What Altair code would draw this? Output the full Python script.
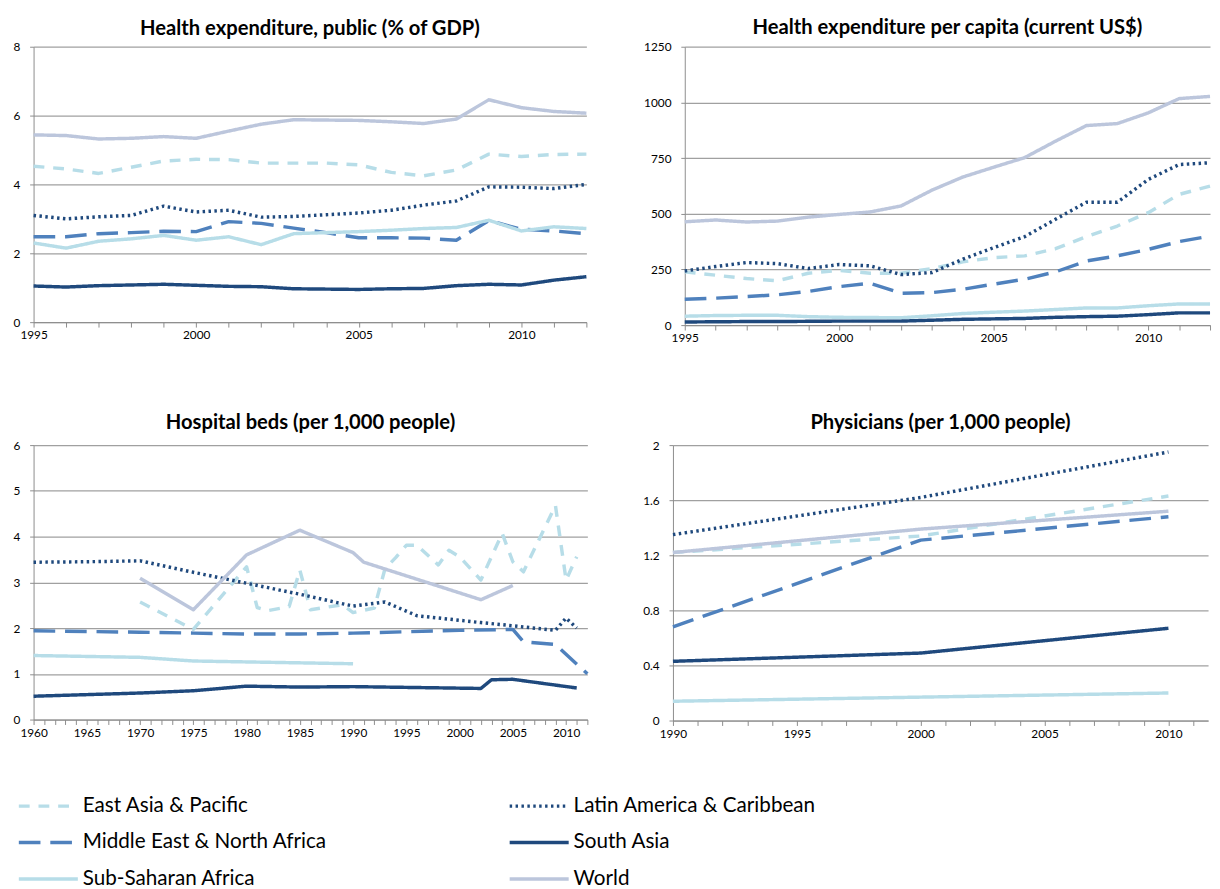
import altair as alt
import pandas as pd

# legend order (column-major fill: first column, then second column)
REGIONS = ["East Asia & Pacific", "Middle East & North Africa", "Sub-Saharan Africa",
           "Latin America & Caribbean", "South Asia", "World"]
COLORS = ["#b7dde8", "#4f81bd", "#b7dde8", "#1f497d", "#1f497d", "#bcc6dc"]
DASHES = [[11, 9], [22, 10], [1, 0], [2.5, 3.5], [1, 0], [1, 0]]
WIDTHS = [3.5, 3.5, 5.5, 3.3, 3.5, 4]

# ---- Panel 1: Health expenditure, public (% of GDP)
HE_YEARS = list(range(1995, 2013))
he_pub = {
    "East Asia & Pacific": [4.53, 4.45, 4.32, 4.5, 4.68, 4.73, 4.72, 4.62, 4.62, 4.62, 4.57, 4.35, 4.25, 4.42, 4.88, 4.81, 4.87, 4.88],
    "Latin America & Caribbean": [3.1, 3.0, 3.06, 3.1, 3.37, 3.2, 3.25, 3.05, 3.07, 3.12, 3.17, 3.25, 3.4, 3.52, 3.93, 3.92, 3.88, 4.0],
    "Middle East & North Africa": [2.48, 2.48, 2.57, 2.6, 2.64, 2.63, 2.92, 2.87, 2.73, 2.6, 2.45, 2.45, 2.44, 2.38, 2.95, 2.7, 2.65, 2.57],
    "South Asia": [1.05, 1.02, 1.06, 1.08, 1.1, 1.07, 1.04, 1.03, 0.97, 0.96, 0.95, 0.97, 0.98, 1.06, 1.1, 1.08, 1.22, 1.32],
    "Sub-Saharan Africa": [2.3, 2.15, 2.35, 2.42, 2.52, 2.38, 2.48, 2.25, 2.57, 2.6, 2.63, 2.67, 2.72, 2.75, 2.96, 2.65, 2.77, 2.72],
    "World": [5.44, 5.42, 5.32, 5.34, 5.39, 5.34, 5.55, 5.75, 5.88, 5.87, 5.86, 5.82, 5.77, 5.9, 6.46, 6.23, 6.12, 6.07],
}

# ---- Panel 2: Health expenditure per capita (current US$)
he_pc = {
    "East Asia & Pacific": [239, 224, 209, 199, 233, 246, 233, 233, 254, 284, 303, 311, 343, 397, 445, 505, 587, 624],
    "Latin America & Caribbean": [243, 263, 281, 276, 254, 272, 266, 227, 236, 296, 348, 397, 475, 552, 552, 654, 721, 729],
    "Middle East & North Africa": [116, 121, 128, 136, 151, 173, 188, 143, 146, 161, 184, 206, 239, 288, 311, 340, 375, 400],
    "South Asia": [14, 15, 16, 16, 17, 18, 18, 18, 22, 26, 28, 30, 35, 38, 40, 47, 55, 55],
    "Sub-Saharan Africa": [40, 43, 44, 44, 38, 35, 34, 33, 42, 52, 58, 63, 70, 77, 77, 87, 95, 95],
    "World": [464, 472, 463, 467, 485, 497, 508, 535, 606, 665, 709, 752, 826, 896, 905, 953, 1017, 1027],
}

# ---- Panel 3: Hospital beds (per 1,000 people)
beds = {
    "East Asia & Pacific": (
        [1970, 1975, 1980, 1981, 1982, 1984, 1985, 1986, 1989, 1990, 1992, 1993, 1994, 1995, 1996, 1998, 1999, 2000, 2002, 2004, 2005, 2006, 2009, 2010, 2011],
        [2.57, 1.97, 3.34, 2.45, 2.38, 2.47, 3.27, 2.4, 2.51, 2.34, 2.44, 3.3, 3.54, 3.81, 3.81, 3.38, 3.7, 3.56, 3.05, 4.07, 3.45, 3.23, 4.68, 3.05, 3.56]),
    "Latin America & Caribbean": (
        [1960, 1965, 1970, 1975, 1980, 1985, 1990, 1993, 1996, 2000, 2002, 2005, 2009, 2010, 2011],
        [3.44, 3.45, 3.47, 3.22, 2.98, 2.74, 2.48, 2.57, 2.27, 2.17, 2.12, 2.05, 1.95, 2.22, 2.0]),
    "Middle East & North Africa": (
        [1960, 1970, 1975, 1980, 1985, 1990, 1995, 2000, 2005, 2006, 2009, 2012],
        [1.94, 1.91, 1.89, 1.87, 1.87, 1.89, 1.92, 1.95, 1.97, 1.7, 1.64, 1.0]),
    "South Asia": (
        [1960, 1970, 1975, 1980, 1985, 1990, 2002, 2003, 2005, 2011],
        [0.51, 0.58, 0.63, 0.73, 0.71, 0.72, 0.68, 0.87, 0.88, 0.69]),
    "Sub-Saharan Africa": (
        [1960, 1970, 1975, 1980, 1985, 1990],
        [1.4, 1.36, 1.28, 1.26, 1.24, 1.22]),
    "World": (
        [1970, 1975, 1980, 1985, 1990, 1991, 2002, 2005],
        [3.09, 2.4, 3.6, 4.14, 3.65, 3.44, 2.62, 2.93]),
}

# ---- Panel 4: Physicians (per 1,000 people)
phys = {
    "East Asia & Pacific": ([1990, 2000, 2010], [1.22, 1.34, 1.63]),
    "Latin America & Caribbean": ([1990, 2000, 2010], [1.35, 1.62, 1.95]),
    "Middle East & North Africa": ([1990, 2000, 2010], [0.68, 1.31, 1.48]),
    "South Asia": ([1990, 2000, 2005, 2010], [0.43, 0.49, 0.58, 0.67]),
    "Sub-Saharan Africa": ([1990, 2010], [0.14, 0.2]),
    "World": ([1990, 2000, 2010], [1.22, 1.39, 1.52]),
}


def long_from_full(d, years):
    rows = []
    for r in REGIONS:
        for y, v in zip(years, d[r]):
            rows.append({"region": r, "year": y, "value": v})
    return pd.DataFrame(rows)


def long_from_pairs(d):
    rows = []
    for r in REGIONS:
        ys, vs = d[r]
        for y, v in zip(ys, vs):
            rows.append({"region": r, "year": y, "value": v})
    return pd.DataFrame(rows)


FONT = "Lato"
GRID = "#a0a0a0"
AX = "#8c8c8c"


def panel(df, title, x0, x1, xmax, yvals, yfmt, width, height, toff):
    xaxis = alt.Axis(values=list(range(x0, x1 + 1)),
                     labelExpr="datum.value % 5 === 0 ? '' + datum.value : ''",
                     labelOverlap=False, labelFlush=False, grid=False,
                     tickSize=5, tickColor=AX, domainColor=AX, labelPadding=3,
                     labelFontSize=12, labelFont=FONT, labelColor="#000000", title=None)
    yaxis = alt.Axis(values=yvals, format=yfmt, grid=True, gridColor=GRID, gridWidth=1.3,
                     tickSize=4, tickColor=AX, domainColor=AX, labelPadding=10,
                     labelFontSize=12, labelFont=FONT, labelColor="#000000", title=None)
    return alt.Chart(df).mark_line(strokeJoin="round").encode(
        x=alt.X("year:Q", scale=alt.Scale(domain=[x0, xmax], nice=False, zero=False), axis=xaxis),
        y=alt.Y("value:Q", scale=alt.Scale(domain=[yvals[0], yvals[-1]], nice=False), axis=yaxis),
        color=alt.Color("region:N", scale=alt.Scale(domain=REGIONS, range=COLORS),
                        legend=alt.Legend(title=None)),
        strokeDash=alt.StrokeDash("region:N", scale=alt.Scale(domain=REGIONS, range=DASHES),
                                  legend=alt.Legend(title=None)),
        strokeWidth=alt.StrokeWidth("region:N", scale=alt.Scale(domain=REGIONS, range=WIDTHS),
                                    legend=alt.Legend(title=None)),
        detail="region:N",
    ).properties(
        width=width, height=height,
        title=alt.TitleParams(title, fontSize=20.5, fontWeight="bold", font=FONT, color="#000000", offset=toff),
    )


p1 = panel(long_from_full(he_pub, HE_YEARS), "Health expenditure, public (% of GDP)",
           1995, 2012, 2012, [0, 2, 4, 6, 8], "d", 562, 280, 1)
p2 = panel(long_from_full(he_pc, HE_YEARS), "Health expenditure per capita (current US$)",
           1995, 2012, 2012, [0, 250, 500, 750, 1000, 1250], "d", 534, 283, 2)
p3 = panel(long_from_pairs(beds), "Hospital beds (per 1,000 people)",
           1960, 2012, 2012, [0, 1, 2, 3, 4, 5, 6], "d", 563, 279, 6)
p4 = panel(long_from_pairs(phys), "Physicians (per 1,000 people)",
           1990, 2011, 2011.6, [0, 0.4, 0.8, 1.2, 1.6, 2.0], ".1~f", 544, 280, 6)

chart = alt.vconcat(
    alt.hconcat(p1, p2, spacing=56),
    alt.hconcat(p3, p4, spacing=54),
    spacing=70,
).properties(
    padding={"left": 5, "top": 3, "right": 0, "bottom": 0},
).configure_view(stroke=None).configure_legend(
    orient="none", legendX=-17, legendY=762, columns=2, columnPadding=183,
    rowPadding=16, clipHeight=20, symbolType="stroke", symbolSize=3600,
    labelFontSize=21, labelFont=FONT, labelColor="#000000", labelOffset=3,
    symbolOffset=0, padding=0, labelLimit=400,
)

chart.save("out.html", embed_options={"renderer": "svg", "actions": False})
